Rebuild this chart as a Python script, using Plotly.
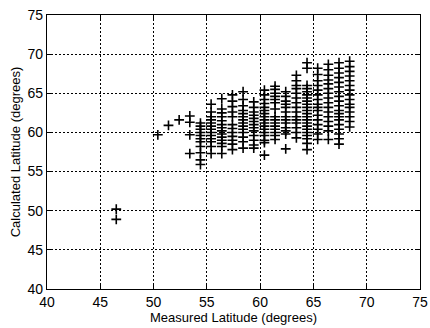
import plotly.graph_objects as go

# Measured latitude columns (degrees) and calculated latitudes per column
col_x = [46.5, 50.4, 51.4, 52.4, 53.4, 54.4, 55.4, 56.4, 57.4, 58.4, 59.4,
         60.4, 61.4, 62.4, 63.4, 64.4, 65.4, 66.4, 67.4, 68.4]

col_y = [
    [50.2, 48.9],
    [59.7],
    [60.9],
    [61.6],
    [62.1, 61.3, 59.7, 57.3],
    [61.2, 60.8, 60.4, 60.0, 59.6, 59.2, 58.8, 58.2, 57.4, 56.5, 55.9],
    [63.6, 62.6, 62.0, 61.6, 61.2, 60.8, 60.4, 60.0, 59.6, 59.2, 58.8, 58.2, 57.3],
    [64.3, 63.0, 62.5, 62.0, 61.5, 61.0, 60.6, 60.2, 59.8, 59.4, 59.0, 58.6, 58.2, 57.3],
    [64.8, 64.0, 63.3, 62.6, 62.0, 61.0, 60.5, 60.0, 59.5, 59.0, 58.5, 57.8],
    [65.2, 64.2, 63.4, 62.8, 62.4, 62.0, 61.6, 61.2, 60.8, 60.4, 60.0, 59.4, 58.8, 58.0],
    [63.9, 63.2, 62.6, 62.2, 61.8, 61.4, 61.0, 60.6, 60.2, 59.6, 59.0, 58.4, 58.0],
    [65.4, 64.8, 64.2, 63.7, 63.2, 62.8, 62.4, 62.0, 61.6, 61.2, 60.8, 60.4, 60.0,
     59.6, 59.0, 58.7, 57.1],
    [65.9, 65.5, 65.0, 64.6, 64.2, 63.8, 63.0, 62.0, 61.6, 61.2, 60.8, 60.4, 60.0,
     59.6, 59.1],
    [65.2, 64.6, 64.0, 63.6, 63.2, 62.6, 62.0, 61.6, 61.2, 60.6, 60.2, 59.8, 57.9],
    [67.3, 66.6, 66.0, 65.6, 65.0, 64.4, 63.8, 63.2, 62.6, 62.0, 61.6, 61.2, 60.6,
     60.0, 59.3],
    [68.9, 68.2, 66.0, 65.6, 65.2, 64.8, 64.4, 64.0, 63.6, 63.2, 62.8, 62.4, 62.0,
     61.6, 61.2, 60.8, 60.4, 60.0, 59.6, 59.2, 58.6, 57.8],
    [68.2, 67.4, 66.6, 66.0, 65.4, 64.8, 64.2, 63.6, 63.2, 62.8, 62.2, 61.6, 61.0,
     60.4, 59.8, 59.1],
    [68.7, 68.0, 67.3, 66.7, 66.2, 65.6, 65.0, 64.4, 63.8, 63.2, 62.6, 62.0, 61.4,
     60.8, 60.2, 59.1],
    [68.9, 68.2, 67.6, 67.0, 66.4, 65.8, 65.2, 64.6, 64.0, 63.4, 62.8, 62.4, 62.0,
     61.6, 61.0, 60.4, 59.8, 59.2, 58.5],
    [69.1, 68.4, 67.8, 67.2, 66.6, 66.0, 65.4, 64.8, 64.2, 63.6, 63.2, 62.6, 62.0,
     61.4, 60.7],
]

tick_vals = [40, 45, 50, 55, 60, 65, 70, 75]

xs, ys = [], []
for cx, cy in zip(col_x, col_y):
    for v in cy:
        xs.append(cx)
        ys.append(v)

fig = go.Figure()
fig.add_trace(go.Scatter(
    x=xs, y=ys, mode="markers",
    marker=dict(symbol="cross-thin", size=7, color="black",
                line=dict(color="black", width=1.6)),
    showlegend=False, hoverinfo="skip",
))

font_family = "Liberation Sans, Arial, sans-serif"
axis_common = dict(
    range=[40, 75], tickvals=tick_vals, ticktext=[str(v) for v in tick_vals],
    showgrid=True, gridcolor="black", gridwidth=1, griddash="2px,2px",
    showline=True, linecolor="black", linewidth=1.3, mirror="ticks",
    ticks="inside", ticklen=4, tickcolor="black", tickwidth=1,
    zeroline=False, tickfont=dict(family=font_family, size=14, color="black"),
    automargin=False,
)

fig.update_xaxes(**axis_common,
                 title=dict(text="Measured Latitude (degrees)",
                            font=dict(family=font_family, size=13, color="black"),
                            standoff=1))
fig.update_yaxes(**axis_common,
                 title=dict(text="Calculated Latitude (degrees)",
                            font=dict(family=font_family, size=13, color="black"),
                            standoff=3))

fig.update_layout(
    width=430, height=328,
    margin=dict(l=47, r=10, t=15, b=39),
    paper_bgcolor="white", plot_bgcolor="white",
)

fig.write_html("out.html")
